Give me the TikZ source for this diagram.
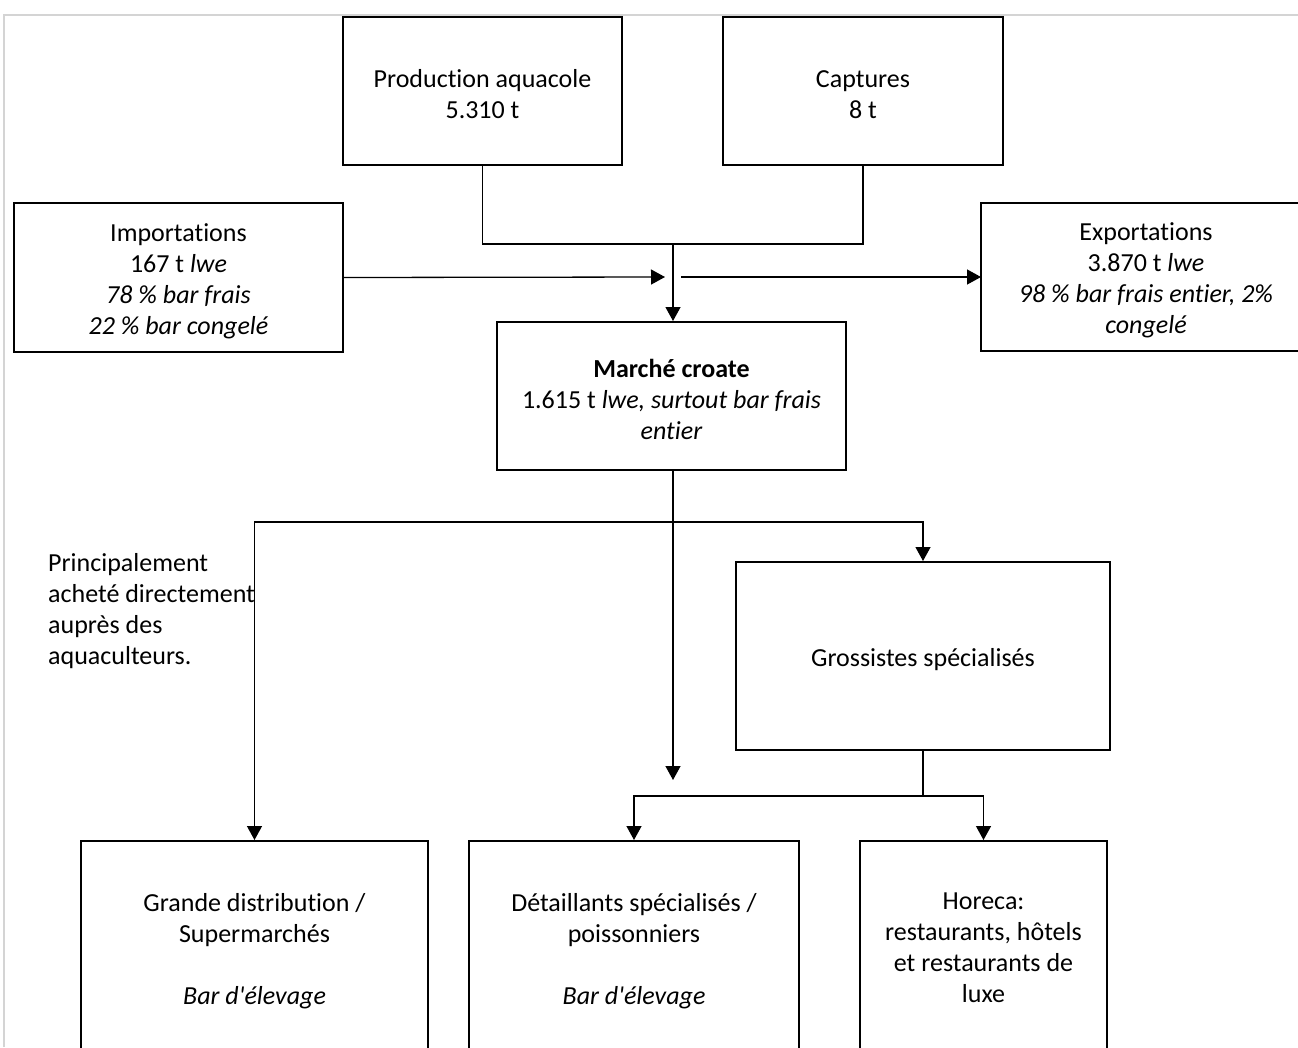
\documentclass[tikz,border=0pt]{standalone}
\usepackage{fontspec}
\setmainfont{Carlito}[Ligatures=NoCommon]
\usetikzlibrary{arrows.meta,positioning}

\newcommand{\topline}{\rule{0pt}{25pt}}

\tikzset{
    box/.style={draw, line width=2pt, align=center, inner sep=0pt},
    link/.style={line width=1.3pt},
    flow/.style={link, -{Triangle[width=15pt,length=14pt]}},
}

\begin{document}
\begin{tikzpicture}[x=1pt, y=-1pt, font=\fontsize{26}{31}\selectfont]
        \clip (0,0) rectangle (1298,1047);
        \fill[white] (0,0) rectangle (1298,1047);
        \draw[line width=2pt, black!17] (4,1047) -- (4,15) -- (1298,15);

        \node[box, minimum width=279pt, minimum height=148pt] (prod) at (482.5,91)
            {\topline Production aquacole\\5.310 t};
        \node[box, minimum width=280pt, minimum height=148pt] (capt) at (863,91)
            {\topline Captures\\8 t};
        \node[box, minimum width=329pt, minimum height=149pt] (imp) at (178.5,277.5)
            {\topline Importations\\167 t \textit{lwe}\\\textit{78 \% bar frais}\\\textit{22 \% bar congelé}};
        \node[box, minimum width=330pt, minimum height=148pt] (exp) at (1146,277)
            {\topline Exportations\\3.870 t \textit{lwe}\\\textit{98 \% bar frais entier, 2\%}\\\textit{congelé}};
        \node[box, minimum width=349pt, minimum height=148pt] (marche) at (671.5,396)
            {\topline\textbf{Marché croate}\\1.615 t \textit{lwe, surtout bar frais}\\\textit{entier}};
        \node[box, minimum width=374pt, minimum height=188pt] (gross) at (923,656)
            {\topline Grossistes spécialisés};
        \node[box, minimum width=347pt, minimum height=214pt] (gd) at (254.5,948)
            {\topline Grande distribution /\\Supermarchés\\[31pt]\textit{Bar d\textquotesingle élevage}};
        \node[box, minimum width=330pt, minimum height=214pt] (det) at (634,948)
            {\topline Détaillants spécialisés /\\poissonniers\\[31pt]\textit{Bar d\textquotesingle élevage}};
        \node[box, minimum width=247pt, minimum height=214pt] (hor) at (983.5,948)
            {Horeca:\\restaurants, hôtels\\et restaurants de\\luxe};
        \node[align=left, anchor=west, inner sep=0pt] (note) at (48,611.5)
            {Principalement\\acheté directement\\auprès des\\aquaculteurs.};

        \coordinate (join) at (673,244);
        \coordinate (impend) at (665,277);
        \coordinate (expstart) at (681,277);
        \coordinate (split) at (673,522);
        \coordinate (loose) at (673,780);
        \coordinate (fork) at (923,796);

        \draw[link] (prod.south) |- (join) -| (capt.south);
        \draw[flow] (join) -- (join |- marche.north);
        \draw[flow] (imp.east) -- (impend);
        \draw[flow] (expstart) -- (exp.west -| 981,0);
        \draw[flow] (marche.south -| split) -- (loose);
        \draw[flow] (split) -| (gd.north);
        \draw[flow] (split) -| (gross.north);
        \draw[link] (gross.south) -- (fork);
        \draw[flow] (fork) -| (det.north);
        \draw[flow] (fork) -| (hor.north);
\end{tikzpicture}
\end{document}
